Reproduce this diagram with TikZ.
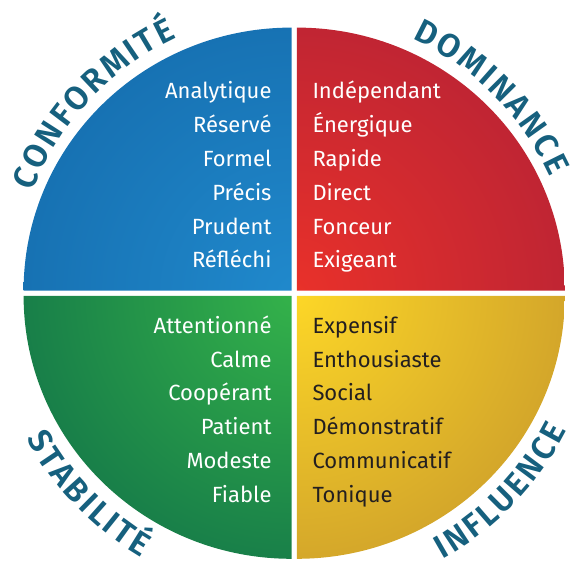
\documentclass[tikz,border=0pt]{standalone}
\usepackage{fontspec}
\setmainfont{Fira Sans}
\newfontfamily\headfam{Fira Sans SemiBold}
\usepackage{tikz}
\usetikzlibrary{calc,decorations.text}
\definecolor{headcol}{HTML}{16607E}
\definecolor{blueIn}{HTML}{2089CC}
\definecolor{blueOut}{HTML}{1265A5}
\definecolor{redIn}{HTML}{E9312A}
\definecolor{redOut}{HTML}{AF2037}
\definecolor{greenIn}{HTML}{34B24A}
\definecolor{greenOut}{HTML}{0F6E48}
\definecolor{yellowIn}{HTML}{FDD727}
\definecolor{yellowOut}{HTML}{C99A2B}
\definecolor{ink}{HTML}{231F20}
\newcommand{\wordfont}{\fontsize{22}{26}\selectfont}
\newcommand{\headfont}{\fontsize{33}{33}\selectfont\headfam}
\tikzset{
  lab/.style={text=white, font=\wordfont, inner sep=0pt},
  labL/.style={lab, anchor=base east},
  labR/.style={lab, anchor=base west},
  labDark/.style={labR, text=ink},
  heading/.style={decorate, decoration={text along path, text align=center,
    text color=headcol, text={|\headfont\kern2.5pt|#1}}}
}

\begin{document}
\begin{tikzpicture}[x=1pt,y=1pt]
\useasboundingbox (0,0) rectangle (575,568);
\coordinate (O) at (294.2,274.8);
\coordinate (KC) at ($(O)+(-2.6,2.6)$);
\coordinate (KD) at ($(O)+(2.6,2.6)$);
\coordinate (KS) at ($(O)+(-2.6,-2.6)$);
\coordinate (KI) at ($(O)+(2.6,-2.6)$);

% quadrants
\begin{scope}
\clip (KC) -- ++(-268,0) arc[start angle=180,end angle=90,x radius=268,y radius=263] -- cycle;
\shade[inner color=blueIn, outer color=blueOut] (O) circle (420);
\end{scope}
\begin{scope}
\clip (KD) -- ++(268,0) arc[start angle=0,end angle=90,x radius=268,y radius=263] -- cycle;
\shade[inner color=redIn, outer color=redOut] (O) circle (380);
\end{scope}
\begin{scope}
\clip (KS) -- ++(-268,0) arc[start angle=180,end angle=270,x radius=268,y radius=263] -- cycle;
\shade[inner color=greenIn, outer color=greenOut] (O) circle (360);
\end{scope}
\begin{scope}
\clip (KI) -- ++(268,0) arc[start angle=0,end angle=-90,x radius=268,y radius=263] -- cycle;
\shade[inner color=yellowIn, outer color=yellowOut] (O) circle (340);
\end{scope}

% headings
\path[heading=CONFORMITÉ] ($(O)+(177:281)$) arc[start angle=177,end angle=97,radius=281];
\path[heading=DOMINANCE] ($(O)+(85:281)$) arc[start angle=85,end angle=5,radius=281];
\path[heading=STABILITÉ] ($(O)+(184:305)$) arc[start angle=184,end angle=264,radius=305];
\path[heading=INFLUENCE] ($(O)+(-84:305)$) arc[start angle=-84,end angle=-4,radius=305];

% conformite
\node[labL] (c1) at (271.7,469.0) {Analytique};
\node[labL] (c2) at (271.7,435.2) {Réservé};
\node[labL] (c3) at (271.7,401.4) {Formel};
\node[labL] (c4) at (271.7,367.6) {Précis};
\node[labL] (c5) at (271.7,333.8) {Prudent};
\node[labL] (c6) at (271.7,300.0) {Réfléchi};
% dominance
\node[labR] (d1) at (312.3,469.0) {Indépendant};
\node[labR] (d2) at (312.3,435.2) {Énergique};
\node[labR] (d3) at (312.3,401.4) {Rapide};
\node[labR] (d4) at (312.3,367.6) {Direct};
\node[labR] (d5) at (312.3,333.8) {Fonceur};
\node[labR] (d6) at (312.3,300.0) {Exigeant};
% stabilite
\node[labL] (s1) at (271.7,234.7) {Attentionné};
\node[labL] (s2) at (271.7,200.9) {Calme};
\node[labL] (s3) at (271.7,167.1) {Coopérant};
\node[labL] (s4) at (271.7,133.3) {Patient};
\node[labL] (s5) at (271.7,99.5) {Modeste};
\node[labL] (s6) at (271.7,65.7) {Fiable};
% influence
\node[labDark] (i1) at (312.3,234.7) {Expensif};
\node[labDark] (i2) at (312.3,200.9) {Enthousiaste};
\node[labDark] (i3) at (312.3,167.1) {Social};
\node[labDark] (i4) at (312.3,133.3) {Démonstratif};
\node[labDark] (i5) at (312.3,99.5) {Communicatif};
\node[labDark] (i6) at (312.3,65.7) {Tonique};
\end{tikzpicture}
\end{document}
